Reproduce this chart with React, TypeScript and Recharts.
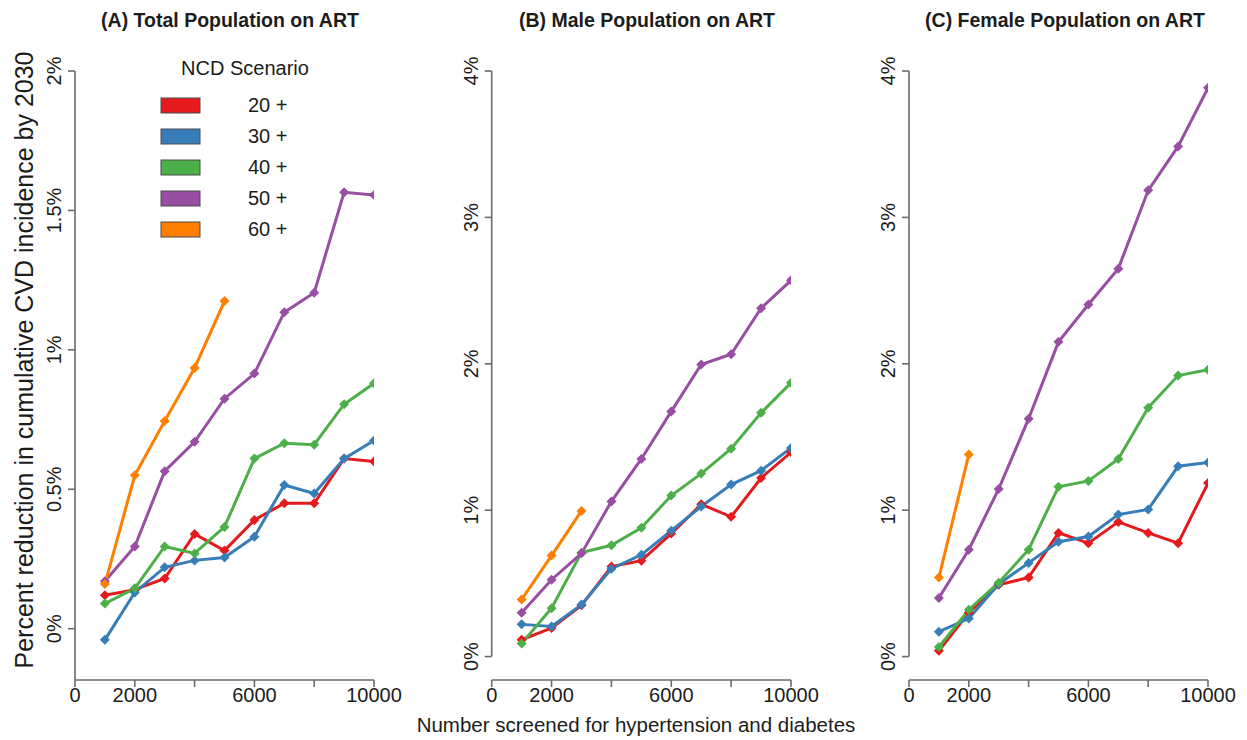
import { LineChart, Line, XAxis, YAxis, ReferenceLine, Legend } from "recharts";

// number screened for hypertension and diabetes
const screened = [1000, 2000, 3000, 4000, 5000, 6000, 7000, 8000, 9000, 10000];
const ageGroups = ["20 +", "30 +", "40 +", "50 +", "60 +"];
const groupColors = ["#e41a1c", "#377eb8", "#4daf4a", "#984ea3", "#ff7f00"];

const xTicks = [0, 2000, 4000, 6000, 8000, 10000];
const xLabelled = [0, 2000, 6000, 10000];

// (A) total population, % reduction
const totalAge20 = [0.12, 0.14, 0.18, 0.34, 0.28, 0.39, 0.45, 0.45, 0.61, 0.6];
const totalAge30 = [-0.04, 0.13, 0.22, 0.245, 0.255, 0.33, 0.515, 0.485, 0.61, 0.675];
const totalAge40 = [0.09, 0.145, 0.295, 0.27, 0.365, 0.61, 0.665, 0.66, 0.805, 0.88];
const totalAge50 = [0.17, 0.295, 0.565, 0.67, 0.825, 0.915, 1.135, 1.205, 1.565, 1.555];
const totalAge60 = [0.16, 0.55, 0.745, 0.935, 1.175];
const totalTicks = [0, 0.5, 1, 1.5, 2];

// (B) male
const maleAge20 = [0.115, 0.195, 0.35, 0.615, 0.655, 0.84, 1.04, 0.955, 1.22, 1.395];
const maleAge30 = [0.22, 0.205, 0.355, 0.6, 0.695, 0.86, 1.025, 1.175, 1.27, 1.425];
const maleAge40 = [0.09, 0.33, 0.71, 0.76, 0.88, 1.1, 1.25, 1.42, 1.665, 1.87];
const maleAge50 = [0.3, 0.525, 0.705, 1.06, 1.35, 1.675, 1.995, 2.065, 2.38, 2.57];
const maleAge60 = [0.39, 0.69, 0.995];

// (C) female
const femaleAge20 = [0.04, 0.3, 0.49, 0.54, 0.845, 0.775, 0.92, 0.845, 0.775, 1.185];
const femaleAge30 = [0.17, 0.26, 0.495, 0.64, 0.785, 0.82, 0.97, 1.005, 1.3, 1.325];
const femaleAge40 = [0.065, 0.32, 0.505, 0.73, 1.16, 1.2, 1.35, 1.7, 1.92, 1.96];
const femaleAge50 = [0.4, 0.73, 1.145, 1.625, 2.15, 2.405, 2.65, 3.185, 3.485, 3.885];
const femaleAge60 = [0.54, 1.38];
const sexTicks = [0, 1, 2, 3, 4];

const FONT = "'Liberation Sans', Arial, Helvetica, sans-serif";
const AXIS = "#6b6b6b";
const INK = "#1c1c1c";

const buildRows = (series: number[][]) =>
  screened.map((x, i) => {
    const row: any = { x };
    series.forEach((s, k) => {
      row["g" + k] = s[i];
    });
    return row;
  });

const diamond = (color: string) => (props: any) => {
  const { cx, cy, index } = props;
  if (cx == null || cy == null || props.value == null) return <g key={"n" + index} />;
  const r = 5;
  return (
    <path
      key={"d" + index}
      d={`M${cx},${cy - r}L${cx + r},${cy}L${cx},${cy + r}L${cx - r},${cy}Z`}
      fill={color}
    />
  );
};

const YTick = (props: any) => {
  const { x, y, payload } = props;
  const cx = x - 12;
  return (
    <text
      x={cx}
      y={y}
      transform={`rotate(-90, ${cx}, ${y})`}
      textAnchor="middle"
      dominantBaseline="central"
      fontSize={20}
      fontFamily={FONT}
      fill={INK}
    >
      {payload.value}%
    </text>
  );
};

const XTick = (props: any) => {
  const { x, y, payload } = props;
  if (!xLabelled.includes(payload.value)) return <g />;
  return (
    <text x={x} y={y + 13} textAnchor="middle" fontSize={20} fontFamily={FONT} fill={INK}>
      {payload.value}
    </text>
  );
};

const LegendBox = (props: any) => {
  const items = props.payload || [];
  return (
    <svg width={200} height={200} style={{ overflow: "visible" }}>
      <text x={95} y={25} textAnchor="middle" fontSize={20} fontFamily={FONT} fill={INK}>
        NCD Scenario
      </text>
      {items.map((it: any, i: number) => (
        <g key={it.value}>
          <rect x={11} y={48 + 31 * i} width={39} height={15} fill={it.color} stroke="#4a4a4a" strokeWidth={1} />
          <text x={98} y={62 + 31 * i} fontSize={20} fontFamily={FONT} fill={INK}>
            {it.value}
          </text>
        </g>
      ))}
    </svg>
  );
};

type PanelProps = {
  left: number;
  width: number;
  marginLeft: number;
  marginRight: number;
  yDomain: [number, number];
  yTicks: number[];
  axisFrom: number;
  series: number[][];
  legend?: boolean;
};

function Panel({ left, width, marginLeft, marginRight, yDomain, yTicks, axisFrom, series, legend }: PanelProps) {
  const rows = buildRows(series);
  const top = yTicks[yTicks.length - 1];
  return (
    <div style={{ position: "absolute", left, top: 0 }}>
      <LineChart
        width={width}
        height={740}
        data={rows}
        margin={{ top: 47.6, right: marginRight, bottom: 20, left: marginLeft }}
      >
        <XAxis
          dataKey="x"
          type="number"
          domain={[0, 10000]}
          ticks={xTicks}
          allowDataOverflow
          height={40}
          tickSize={7}
          stroke={AXIS}
          axisLine={{ stroke: AXIS, strokeWidth: 1.6 }}
          tickLine={{ stroke: AXIS, strokeWidth: 1.6 }}
          tick={<XTick />}
          interval={0}
        />
        <YAxis
          type="number"
          domain={yDomain}
          ticks={yTicks}
          allowDataOverflow
          width={40}
          tickSize={7}
          axisLine={false}
          tickLine={{ stroke: AXIS, strokeWidth: 1.6 }}
          tick={<YTick />}
          interval={0}
        />
        <ReferenceLine
          segment={[
            { x: 0, y: axisFrom },
            { x: 0, y: top },
          ]}
          stroke={AXIS}
          strokeWidth={1.6}
          ifOverflow="visible"
        />
        {series.map((s, k) => (
          <Line
            key={ageGroups[k]}
            name={ageGroups[k]}
            dataKey={"g" + k}
            type="linear"
            stroke={groupColors[k]}
            strokeWidth={3}
            dot={diamond(groupColors[k])}
            activeDot={false}
            isAnimationActive={false}
            connectNulls={false}
          />
        ))}
        {legend && (
          <Legend
            layout="vertical"
            align="center"
            verticalAlign="middle"
            wrapperStyle={{ left: 150, top: 50, width: 200, height: 200 }}
            content={<LegendBox />}
          />
        )}
      </LineChart>
    </div>
  );
}

export default function App() {
  return (
    <div
      style={{
        position: "absolute",
        left: 0,
        top: 0,
        width: 1247,
        height: 740,
        background: "#fff",
        fontFamily: FONT,
      }}
    >
      <Panel
        left={0}
        width={420}
        marginLeft={35}
        marginRight={46}
        yDomain={[-0.184, 2.084]}
        yTicks={totalTicks}
        axisFrom={-0.184}
        series={[totalAge20, totalAge30, totalAge40, totalAge50, totalAge60]}
        legend
      />
      <Panel
        left={420}
        width={420}
        marginLeft={31.7}
        marginRight={49}
        yDomain={[-0.16, 4.16]}
        yTicks={sexTicks}
        axisFrom={0}
        series={[maleAge20, maleAge30, maleAge40, maleAge50, maleAge60]}
      />
      <Panel
        left={830}
        width={417}
        marginLeft={39}
        marginRight={39}
        yDomain={[-0.16, 4.16]}
        yTicks={sexTicks}
        axisFrom={0}
        series={[femaleAge20, femaleAge30, femaleAge40, femaleAge50, femaleAge60]}
      />
      <svg
        width={1247}
        height={740}
        style={{ position: "absolute", left: 0, top: 0, pointerEvents: "none" }}
      >
        <g fontFamily={FONT} fill={INK} fontWeight="bold" fontSize={19.5} textAnchor="middle">
          <text x={230} y={27}>(A) Total Population on ART</text>
          <text x={647} y={27}>(B) Male Population on ART</text>
          <text x={1065} y={27}>(C) Female Population on ART</text>
        </g>
        <text
          x={33}
          y={360}
          transform="rotate(-90, 33, 360)"
          textAnchor="middle"
          fontFamily={FONT}
          fontSize={25}
          fill={INK}
        >
          Percent reduction in cumulative CVD incidence by 2030
        </text>
        <text x={636} y={732} textAnchor="middle" fontFamily={FONT} fontSize={20.5} fill={INK}>
          Number screened for hypertension and diabetes
        </text>
      </svg>
    </div>
  );
}
